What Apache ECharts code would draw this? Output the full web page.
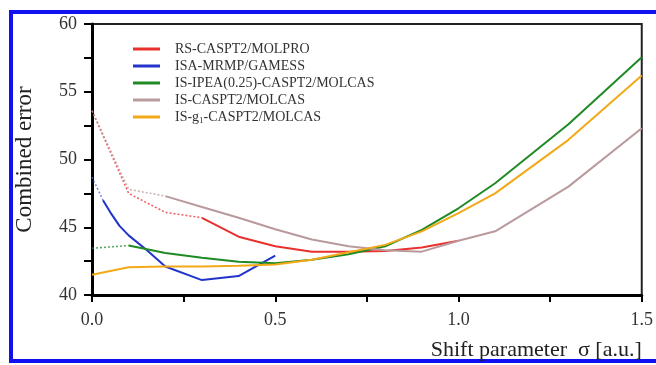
<!DOCTYPE html>
<html>
<head>
<meta charset="utf-8">
<script src="https://cdn.jsdelivr.net/npm/echarts@6/dist/echarts.min.js"></script>
<style>
  html, body { margin: 0; padding: 0; background: #fff; }
  #chart { width: 656px; height: 365px; }
</style>
</head>
<body>
<div id="chart"></div>
<script>
// sigma values (x) and combined errors (y)
const rsSigma = [0.3, 0.4, 0.5, 0.6, 0.7, 0.8, 0.9, 1.0];
const rsErr = [45.7, 44.3, 43.6, 43.2, 43.2, 43.25, 43.5, 44.0];
const rsDotSigma = [0.0, 0.1, 0.2, 0.3];
const rsDotErr = [53.6, 47.5, 46.1, 45.7];

const isaSigma = [0.03, 0.05, 0.075, 0.1, 0.15, 0.2, 0.3, 0.4, 0.5];
const isaErr = [47.0, 46.1, 45.1, 44.4, 43.3, 42.1, 41.1, 41.4, 42.9];
const isaDotSigma = [0.0, 0.03];
const isaDotErr = [48.7, 47.0];

const ipeaSigma = [0.1, 0.2, 0.3, 0.4, 0.5, 0.6, 0.7, 0.8, 0.9, 1.0, 1.1, 1.3, 1.5];
const ipeaErr = [43.65, 43.1, 42.75, 42.45, 42.35, 42.6, 43.0, 43.6, 44.8, 46.4, 48.25, 52.6, 57.55];
const ipeaDotSigma = [0.0, 0.1];
const ipeaDotErr = [43.45, 43.65];

const isSigma = [0.2, 0.3, 0.4, 0.5, 0.6, 0.7, 0.8, 0.9, 1.0, 1.1, 1.3, 1.5];
const isErr = [47.3, 46.5, 45.7, 44.85, 44.1, 43.6, 43.3, 43.2, 44.0, 44.7, 48.0, 52.3];
const isDotSigma = [0.0, 0.1, 0.2];
const isDotErr = [53.6, 47.8, 47.3];

const g1Sigma = [0.0, 0.1, 0.2, 0.3, 0.4, 0.5, 0.6, 0.7, 0.8, 0.9, 1.0, 1.1, 1.3, 1.5];
const g1Err = [41.5, 42.05, 42.1, 42.1, 42.15, 42.25, 42.6, 43.15, 43.7, 44.7, 46.05, 47.5, 51.45, 56.2];

const names = [
  "RS-CASPT2/MOLPRO",
  "ISA-MRMP/GAMESS",
  "IS-IPEA(0.25)-CASPT2/MOLCAS",
  "IS-CASPT2/MOLCAS",
  "IS-g1-CASPT2/MOLCAS",
];
const xTicks = [0.0, 0.5, 1.0, 1.5];
const yTicks = [40, 45, 50, 55, 60];

const colors = ["#e8302e", "#2233cc", "#1f8a24", "#b99a9c", "#f2a918"];
const font = "Liberation Serif";

const pairs = (xs, ys) => xs.map((x, i) => [x, ys[i]]);

function solid (name, data, color) {
  return {
    name,
    type: "line",
    data,
    showSymbol: false,
    symbol: "none",
    lineStyle: { color, width: 2 },
    itemStyle: { color },
    animation: false,
    z: 3,
  };
}
function dotted (name, data, color) {
  return {
    name,
    type: "line",
    data,
    showSymbol: false,
    symbol: "none",
    lineStyle: { color, width: 1.6, type: [2, 2], opacity: 0.75 },
    animation: false,
    z: 2,
  };
}

const series = [
  dotted("rs-extrap", pairs(rsDotSigma, rsDotErr), colors[0]),
  dotted("isa-extrap", pairs(isaDotSigma, isaDotErr), "#5566dd"),
  dotted("ipea-extrap", pairs(ipeaDotSigma, ipeaDotErr), colors[2]),
  dotted("is-extrap", pairs(isDotSigma, isDotErr), colors[3]),
  solid(names[0], pairs(rsSigma, rsErr), colors[0]),
  solid(names[1], pairs(isaSigma, isaErr), colors[1]),
  solid(names[2], pairs(ipeaSigma, ipeaErr), colors[2]),
  solid(names[3], pairs(isSigma, isErr), colors[3]),
  solid(names[4], pairs(g1Sigma, g1Err), colors[4]),
];

const chart = echarts.init(document.getElementById("chart"));
const option = {
  backgroundColor: "#fff",
  textStyle: { fontFamily: font },
  graphic: [
    {
      type: "rect",
      shape: { x: 11, y: 12, width: 700, height: 349 },
      style: { fill: "none", stroke: "#1010f0", lineWidth: 4 },
      silent: true,
    },
  ],
  grid: {
    left: 92,
    right: 11,
    top: 24,
    bottom: 70,
    show: true,
    borderColor: "#222",
    borderWidth: 2,
  },
  legend: {
    data: names,
    orient: "vertical",
    left: 128,
    top: 37,
    icon: "rect",
    itemWidth: 27,
    itemHeight: 3,
    itemGap: 3,
    formatter (name) {
      if (name === names[4]) return "{t|IS-g}{s|1}{t|-CASPT2/MOLCAS}";
      return "{t|" + name + "}";
    },
    textStyle: {
      fontFamily: font,
      color: "#333",
      padding: [0, 0, 0, 10],
      rich: {
        t: { fontFamily: font, fontSize: 14, color: "#333", lineHeight: 16 },
        s: { fontFamily: font, fontSize: 9, color: "#333", padding: [7, 0, 0, 0] },
      },
    },
  },
  xAxis: {
    type: "value",
    min: xTicks[0],
    max: xTicks[xTicks.length - 1],
    interval: 0.5,
    name: "Shift parameter  σ [a.u.]",
    nameLocation: "end",
    nameGap: 0,
    nameTextStyle: {
      fontFamily: font,
      fontSize: 22,
      color: "#222",
      align: "right",
      verticalAlign: "top",
      padding: [44, 0, 0, 0],
    },
    axisLine: { show: true, onZero: false, lineStyle: { color: "#000", width: 3 } },
    axisTick: { show: true, length: 7, lineStyle: { color: "#000", width: 2 } },
    minorTick: { show: true, splitNumber: 2, length: 7, lineStyle: { color: "#000", width: 2 } },
    splitLine: { show: false },
    axisLabel: {
      fontFamily: font,
      fontSize: 18,
      color: "#333",
      margin: 16,
      formatter: (v) => v.toFixed(1),
    },
  },
  yAxis: {
    type: "value",
    min: yTicks[0],
    max: yTicks[yTicks.length - 1],
    interval: 5,
    name: "Combined error",
    nameLocation: "middle",
    nameGap: 56,
    nameTextStyle: { fontFamily: font, fontSize: 23, color: "#222" },
    axisLine: { show: true, onZero: false, lineStyle: { color: "#000", width: 3 } },
    axisTick: { show: true, length: 8, lineStyle: { color: "#000", width: 2 } },
    minorTick: { show: true, splitNumber: 2, length: 8, lineStyle: { color: "#000", width: 2 } },
    splitLine: { show: false },
    axisLabel: { fontFamily: font, fontSize: 18, color: "#333", margin: 15 },
  },
  series,
};
chart.setOption(option);
</script>
</body>
</html>
